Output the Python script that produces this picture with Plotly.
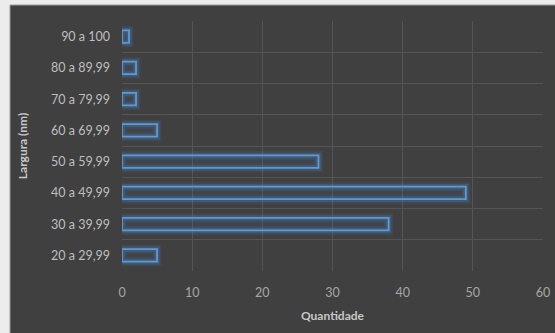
import plotly.graph_objects as go

# Distribution of particle width classes
faixas = ["20 a 29,99", "30 a 39,99", "40 a 49,99", "50 a 59,99",
          "60 a 69,99", "70 a 79,99", "80 a 89,99", "90 a 100"]
quantidade = [5, 38, 49, 28, 5, 2, 2, 1]
x_ticks = [0, 10, 20, 30, 40, 50, 60]

W, H = 555, 333
ML, MR, MT, MB = 122, 12, 21, 62
pw, ph = W - ML - MR, H - MT - MB

fig = go.Figure()

# soft glow behind the bar outlines
for lw, alpha in [(9, 0.10), (5.5, 0.20)]:
    fig.add_trace(go.Bar(
        y=faixas, x=quantidade, orientation="h", width=0.4,
        marker=dict(color="rgba(0,0,0,0)",
                    line=dict(color=f"rgba(80,150,230,{alpha})", width=lw)),
        hoverinfo="skip", showlegend=False,
    ))

# main outlined bars
fig.add_trace(go.Bar(
    y=faixas, x=quantidade, orientation="h", width=0.4,
    marker=dict(color="rgba(70,120,180,0.10)",
                line=dict(color="#5b9bd5", width=1.8)),
    showlegend=False,
))

# dark chart panel with light frame at top/left
fig.add_shape(type="rect", xref="paper", yref="paper", layer="below",
              x0=(10 - ML) / pw, x1=(W + 20 - ML) / pw,
              y0=-(MB + 5) / ph, y1=1 + (MT - 5) / ph,
              fillcolor="#404040", line=dict(color="#9a9a9a", width=1))

font = "Lato, 'Open Sans', sans-serif"
fig.update_layout(
    width=W, height=H,
    margin=dict(l=ML, r=MR, t=MT, b=MB, autoexpand=False),
    paper_bgcolor="#ececec",
    plot_bgcolor="rgba(0,0,0,0)",
    barmode="overlay",
    font=dict(family=font, size=12.5, color="#bfbfbf"),
    xaxis=dict(range=[0, 60], tickvals=x_ticks, showgrid=True,
               automargin=False,
               gridcolor="#555555", gridwidth=1, zeroline=False,
               showline=False, ticks="outside", ticklen=10,
               tickcolor="rgba(0,0,0,0)",
               tickfont=dict(size=12.5, color="#a6a6a6"),
               title=dict(text="<b>Quantidade</b>", standoff=12,
                          font=dict(size=12, color="#c8c8c8"))),
    yaxis=dict(type="category", tickson="boundaries", showgrid=True,
               automargin=False,
               gridcolor="#555555", gridwidth=1, showline=False,
               ticks="", ticklabelstandoff=11,
               tickfont=dict(size=12.5, color="#bfbfbf"),
               title=dict(text="<b>Largura (nm)</b>", standoff=20,
                          font=dict(size=12, color="#c8c8c8"))),
)

fig.write_html("out.html")
